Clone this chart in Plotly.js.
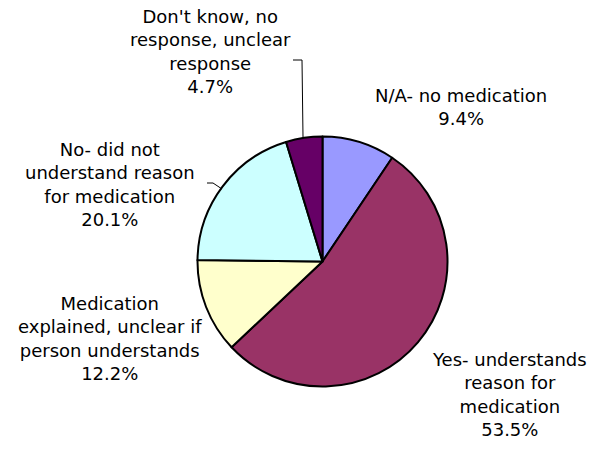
<!DOCTYPE html>
<html>
<head>
<meta charset="utf-8">
<script src="https://cdn.plot.ly/plotly-3.0.1.min.js"></script>
<style>html,body{margin:0;padding:0;background:#fff;}#chart{width:593px;height:451px;}</style>
</head>
<body>
<div id="chart"></div>
<script>
const categories = [
  "N/A- no medication",
  "Yes- understands reason for medication",
  "Medication explained, unclear if person understands",
  "No- did not understand reason for medication",
  "Don't know, no response, unclear response"
];
const labelLines = [
  "N/A- no medication",
  "Yes- understands<br>reason for<br>medication",
  "Medication<br>explained, unclear if<br>person understands",
  "No- did not<br>understand reason<br>for medication",
  "Don't know, no<br>response, unclear<br>response"
];
const values = [9.4, 53.5, 12.2, 20.1, 4.7];
const colors = ["#9999FF", "#993366", "#FFFFCC", "#CCFFFF", "#660066"];

const W = 593, H = 451;
// label anchor positions in pixels (centers)
const labelPos = [[461, 107], [509, 394], [110, 338], [110, 184], [210, 52]];

const annotations = labelLines.map((t, i) => ({
  text: t + "<br>" + values[i].toFixed(1) + "%",
  x: labelPos[i][0] / W, y: 1 - labelPos[i][1] / H,
  xref: "paper", yref: "paper", xanchor: "center", yanchor: "middle",
  showarrow: false, align: "center",
  font: {family: "DejaVu Sans, Verdana, sans-serif", size: 18, color: "#000"}
}));

const px = (x) => x / W, py = (y) => 1 - y / H;
const shapes = [
  {type: "path", xref: "paper", yref: "paper",
   path: `M ${px(293)},${py(60)} L ${px(302)},${py(60)} L ${px(303)},${py(137)}`,
   line: {color: "#000", width: 1}},
  {type: "path", xref: "paper", yref: "paper",
   path: `M ${px(207)},${py(183)} L ${px(213)},${py(183)} L ${px(222)},${py(189)}`,
   line: {color: "#000", width: 1}}
];

const trace = {
  type: "pie",
  labels: categories,
  values: values,
  sort: false,
  direction: "clockwise",
  rotation: 0,
  textinfo: "none",
  hoverinfo: "label+percent",
  marker: {colors: colors, line: {color: "#000", width: 2}},
  domain: {x: [197.5 / W, 447.5 / W], y: [1 - 386.5 / H, 1 - 136.5 / H]},
  showlegend: false
};

Plotly.newPlot("chart", [trace], {
  width: W, height: H,
  margin: {l: 0, r: 0, t: 0, b: 0},
  paper_bgcolor: "#fff",
  showlegend: false,
  annotations: annotations,
  shapes: shapes
}, {displayModeBar: false, staticPlot: true});
</script>
</body>
</html>
